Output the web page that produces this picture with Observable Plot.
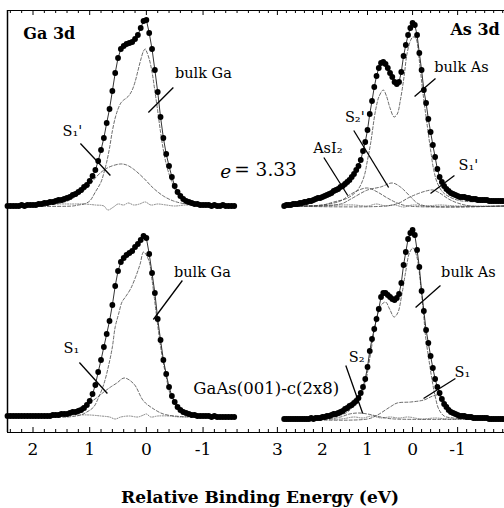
<!DOCTYPE html>
<html><head><meta charset="utf-8">
<script src="https://cdn.jsdelivr.net/npm/d3@7"></script>
<script src="https://cdn.jsdelivr.net/npm/@observablehq/plot@0.6"></script>
<style>
body{margin:0;background:#fff;}
#wrap{position:relative;width:504px;height:508px;overflow:hidden;font-family:"DejaVu Serif",serif;}
#ga{position:absolute;left:0;top:0;}
#as{position:absolute;left:253px;top:0;}
#title{position:absolute;left:8px;width:504px;top:489px;line-height:17px;text-align:center;font-weight:bold;font-size:17px;font-family:"DejaVu Serif",serif;color:#000;}
</style></head><body>
<div id="wrap"><div id="ga"></div><div id="as"></div><div id="title">Relative Binding Energy (eV)</div></div>
<script>
// ---------- data (intensity in arbitrary units, energy in eV) ----------
const step = 0.05;
const gaStart = 2.45;
const gaTopI = [0,0,0,0,0,1,0,1,1,1, 1,2,2,3,3,4,4,5,6,6, 7,8,9,11,12,14,16,19,21,25,
  30,36,45,56,68,83,97,115,133,148, 157,160,162,163,164,167,171,178,185,186,
  173,157,136,114,89,68,52,40,29,20, 14,10,7,5,4,3,2,2,1,1, 1,1,0,1,0,0,1,0,0,0, 0];
const gaBotI = [1,1,1,1,1,1,1,1,1,1, 1,1,1,1,1,1,2,2,2,3, 3,3,4,5,5,6,7,9,12,16,
  23,32,45,57,70,83,96,112,131,146, 155,159,162,164,166,170,173,177,181,179,
  163,144,124,98,77,57,43,30,21,15, 10,7,5,4,3,2,2,1,1,1, 1,1,0,1,0,0,0,0,0,0, 0];
const asStart = 2.85;
const asTopI = [0,1,1,1,2,2,2,3,3,4, 4,5,5,6,7,8,8,9,10,11, 12,13,15,16,17,19,20,22,24,26,
  29,32,36,40,46,55,64,76,92,105, 119,130,138,143,144,142,138,133,129,124,
  122,124,134,150,161,171,178,183,181,171, 153,136,116,103,87,74,61,49,37,29,
  24,20,17,15,13,12,11,10,9,9, 9,8,8,7,7,7,6,6,6,6, 6,5,5,5,5,5,5,5,5];
const asBotI = [-2,-2,-2,-2,-2,-2,-2,-2,-2,-2, -2,-2,-1,-2,-1,-1,-1,0,0,1, 1,2,3,3,4,5,6,8,9,11,
  12,14,16,19,24,30,38,50,66,78, 88,98,108,120,124,124,122,120,118,117,
  119,123,134,152,165,178,184,187,182,167, 150,126,106,87,74,61,49,38,30,24,
  18,13,10,7,5,4,3,2,1,1, 1,0,0,0,-1,-1,-1,-1,-1,-1, -1,-2,-2,-2,-2,-2,-2,-2,-2];

// fitted components [eV, intensity]
const gaTopBulk = [[2.45,0],[1.3,0],[1.2,1],[1.1,2],[1.0,5],[0.9,14],[0.8,24],[0.75,33],[0.7,44],[0.65,58],[0.6,75],[0.55,88],[0.5,97],[0.45,103],[0.4,106],[0.35,108],[0.3,111],[0.25,116],[0.2,124],[0.15,135],[0.1,146],[0.05,155],[0.02,157],[0,155],[-0.05,147],[-0.1,134],[-0.15,115],[-0.2,95],[-0.25,74],[-0.3,56],[-0.35,42],[-0.4,32],[-0.45,24],[-0.5,17],[-0.6,9],[-0.7,5],[-0.8,3],[-1.0,1],[-1.3,0],[-1.59,0]];
const gaTopS1p = [[2.45,0],[1.8,1],[1.6,2],[1.39,5],[1.29,8],[1.11,15],[1.0,21],[0.87,30],[0.69,38],[0.46,42],[0.35,41],[0.23,37],[0.05,28],[-0.12,18],[-0.3,10],[-0.48,5],[-0.7,2],[-1.0,1],[-1.59,0]];
const gaTopRes = [[2.45,1],[2.0,1],[1.6,2],[1.3,2],[1.1,2],[0.9,1],[0.75,0],[0.68,-4],[0.58,-1],[0.5,2],[0.4,1],[0.32,3],[0.22,1],[0.12,2],[0.02,4],[-0.08,1],[-0.2,2],[-0.35,1],[-0.5,0],[-0.7,1],[-1.0,0],[-1.3,0],[-1.59,0]];
const gaBotBulk = [[2.45,0],[1.4,0],[1.16,2],[1.05,5],[0.93,10],[0.84,20],[0.75,33],[0.66,53],[0.6,70],[0.55,90],[0.49,103],[0.43,115],[0.37,120],[0.28,128],[0.19,140],[0.11,153],[0.05,165],[-0.04,157],[-0.1,137],[-0.16,110],[-0.22,83],[-0.28,60],[-0.35,40],[-0.42,23],[-0.54,10],[-0.72,3],[-0.95,1],[-1.59,0]];
const gaBotS1 = [[2.45,0],[1.7,1],[1.4,3],[1.16,10],[0.93,17],[0.75,25],[0.63,30],[0.52,34],[0.39,39],[0.22,33],[0.05,16],[-0.13,8],[-0.3,3],[-0.5,1],[-0.8,0],[-1.59,0]];
const gaBotRes = [[2.45,1],[1.8,1],[1.3,2],[1.0,2],[0.8,1],[0.65,0],[0.55,-2],[0.45,0],[0.3,1],[0.15,0],[0.05,2],[0.0,3],[-0.08,0],[-0.2,1],[-0.4,1],[-0.6,0],[-1.0,1],[-1.59,0]];
const asTopBulk = [[2.85,0],[2.0,1],[1.75,4],[1.44,8],[1.22,16],[1.08,29],[1.0,46],[0.93,63],[0.82,96],[0.74,110],[0.65,116],[0.58,110],[0.5,98],[0.41,89],[0.34,92],[0.27,106],[0.19,129],[0.12,153],[0.04,166],[-0.01,169],[-0.07,168],[-0.14,149],[-0.19,129],[-0.25,106],[-0.33,79],[-0.4,56],[-0.47,36],[-0.55,23],[-0.69,13],[-0.99,6],[-1.43,4],[-2.05,3]];
const asTopAsI2 = [[2.85,0],[2.4,0],[2.0,1],[1.6,5],[1.4,11],[1.19,16],[1.0,18],[0.78,14],[0.56,8],[0.34,3],[0.1,0],[-2.05,0]];
const asTopS2p = [[2.85,0],[1.6,2],[1.37,7],[1.0,16],[0.71,19],[0.45,23],[0.27,19],[0.04,9],[-0.1,3],[-0.3,0],[-2.05,0]];
const asTopS1p = [[2.85,0],[0.6,0],[0.3,3],[0.1,8],[-0.1,12],[-0.3,15],[-0.45,16],[-0.6,13],[-0.8,7],[-1.0,3],[-1.3,0],[-2.05,0]];
const asTopRes = [[2.85,0],[2.0,0],[1.6,1],[1.3,1],[1.0,0],[0.8,2],[0.6,0],[0.4,1],[0.2,-1],[0.0,1],[-0.3,0],[-0.6,1],[-1.0,0],[-2.05,0]];
const asBotBulk = [[2.85,-2],[2.0,-1],[1.75,0],[1.48,4],[1.37,8],[1.26,13],[1.15,21],[1.04,36],[0.93,64],[0.82,94],[0.71,111],[0.6,115],[0.51,108],[0.41,100],[0.33,104],[0.24,122],[0.15,146],[0.07,164],[-0.01,169],[-0.09,161],[-0.18,132],[-0.25,100],[-0.29,80],[-0.36,58],[-0.44,35],[-0.51,19],[-0.58,8],[-0.7,1],[-0.9,-1],[-1.3,-2],[-2.05,-2]];
const asBotS1 = [[2.85,-2],[1.0,-2],[0.78,2],[0.5,10],[0.34,14],[0.04,15],[-0.25,17],[-0.45,21],[-0.55,22],[-0.69,17],[-0.91,5],[-1.21,0],[-1.5,-2],[-2.05,-2]];
const asBotS2 = [[2.85,-2],[1.9,-2],[1.6,0],[1.4,3],[1.2,4],[1.0,3],[0.8,1],[0.6,-1],[0.4,-2],[-2.05,-2]];
const asBotRes = [[2.85,-2],[1.6,-2],[1.3,0],[1.1,-1],[0.9,1],[0.7,-1],[0.5,0],[0.3,-1],[0.1,0],[-0.2,-2],[-0.5,-1],[-0.8,-2],[-2.05,-2]];

// ticks
const gaMajor = [2, 1, 0, -1];
const gaMinor = [2.4,2.2,1.8,1.6,1.4,1.2,0.8,0.6,0.4,0.2,-0.2,-0.4,-0.6,-0.8,-1.2,-1.4,-1.6,-1.8];
const asMajor = [3, 2, 1, 0, -1];
const asMinor = [3.4,3.2,2.8,2.6,2.4,2.2,1.8,1.6,1.4,1.2,0.8,0.6,0.4,0.2,-0.2,-0.4,-0.6,-0.8,-1.2,-1.4,-1.6,-1.8,-2.0];

// annotations
const gaLabels = [
  {row:"top", e:-1.005, i:132.5, text:"bulk Ga"},
  {row:"top", e:1.305, i:74.5, text:"S\u2081'"},
  {row:"bottom", e:-0.988, i:144.5, text:"bulk Ga"},
  {row:"bottom", e:1.323, i:68.5, text:"S\u2081"}
];
const gaLeaders = [
  {row:"top", e1:-0.035, i1:93.5, e2:-0.476, i2:118.5},
  {row:"top", e1:1.164, i1:62.5, e2:0.635, i2:30.5},
  {row:"bottom", e1:-0.123, i1:97.5, e2:-0.635, i2:136.5},
  {row:"bottom", e1:1.182, i1:54.5, e2:0.688, i2:23.5}
];
const gaNotes = [
  {row:"bottom", e:-0.829, i:28.5, text:"GaAs(001)-c(2x8)"}
];
const asLabels = [
  {row:"top", e:-1.084, i:138.5, text:"bulk As"},
  {row:"top", e:1.283, i:88.5, text:"S\u2082'"},
  {row:"top", e:1.88, i:57.5, text:"AsI\u2082"},
  {row:"top", e:-1.239, i:40.5, text:"S\u2081'"},
  {row:"bottom", e:-1.239, i:144.5, text:"bulk As"},
  {row:"bottom", e:1.239, i:59.5, text:"S\u2082"},
  {row:"bottom", e:-1.106, i:44.5, text:"S\u2081"}
];
const asLeaders = [
  {row:"top", e1:-0.044, i1:109.5, e2:-0.509, i2:127.5},
  {row:"top", e1:1.305, i1:75.5, e2:0.531, i2:18.5},
  {row:"top", e1:1.969, i1:48.5, e2:1.438, i2:10.5},
  {row:"top", e1:-0.398, i1:12.5, e2:-0.929, i2:30.5},
  {row:"bottom", e1:-0.066, i1:109.5, e2:-0.619, i2:131.5},
  {row:"bottom", e1:1.482, i1:51.5, e2:1.106, i2:3.5},
  {row:"bottom", e1:-0.243, i1:18.5, e2:-0.951, i2:38.5}
];

// ---------- build tables ----------
const spectrum = (start, vals, row) => vals.map((v, k) => ({e: Math.round((start - k*step)*100)/100, i: v, row}));
const comp = (pairs, row, name) => pairs.map(([e, i]) => ({e, i, row, name}));

const yDomain = [-15.5, 195.5];

function tickMarks(major, minor) {
  const tt = [];
  for (const t of major) { tt.push({row:"top", e:t, a:yDomain[1], b:yDomain[1]-5}); tt.push({row:"bottom", e:t, a:yDomain[0], b:yDomain[0]+5}); }
  for (const t of minor) { tt.push({row:"top", e:t, a:yDomain[1], b:yDomain[1]-3}); tt.push({row:"bottom", e:t, a:yDomain[0], b:yDomain[0]+3}); }
  return Plot.ruleX(tt, {x:"e", y1:"a", y2:"b", fy:"row", stroke:"#000", strokeWidth:1});
}

function panel(o) {
  const dataAll = [...spectrum(o.start, o.top, "top"), ...spectrum(o.start, o.bot, "bottom")];
  const marks = [
    Plot.ruleY([{row:"top", y:yDomain[1]}], {y:"y", fy:"row", stroke:"#000", strokeWidth:1.2}),
    Plot.ruleY([{row:"bottom", y:yDomain[0]}], {y:"y", fy:"row", stroke:"#000", strokeWidth:1.2}),
    tickMarks(o.major, o.minor),
    Plot.axisX({anchor:"bottom", ticks:o.major, tickSize:0, tickPadding:10, fontSize:17, tickFormat:d=>String(d), label:null}),
    Plot.line(o.res, {x:"e", y:"i", fy:"row", z:"name", stroke:"#777", strokeWidth:0.9, strokeDasharray:"1,1.5", curve:"catmull-rom"}),
    Plot.line(o.comps, {x:"e", y:"i", fy:"row", z:"name", stroke:"#444", strokeWidth:0.8, strokeDasharray:"3,2", curve:"catmull-rom"}),
    Plot.line(dataAll, {x:"e", y:"i", fy:"row", z:"row", stroke:"#000", strokeWidth:0.8}),
    Plot.dot(dataAll, {x:"e", y:"i", fy:"row", r:2.9, fill:"#000", stroke:null}),
    Plot.link(o.leaders, {x1:"e1", y1:"i1", x2:"e2", y2:"i2", fy:"row", stroke:"#000", strokeWidth:1.3}),
    Plot.text(o.labels, {x:"e", y:"i", fy:"row", text:"text", fontSize:14.5, fill:"#000"}),
    ...o.extra
  ];
  if (o.left) marks.unshift(Plot.ruleX([o.domain[0]], {stroke:"#000", strokeWidth:1.5}));
  return Plot.plot({
    width: o.width, height: 460,
    marginTop: 10, marginBottom: 28, marginLeft: o.marginLeft, marginRight: 0,
    style: {background:"transparent", overflow:"visible", fontFamily:"'DejaVu Serif', serif", fontSize:"15px", color:"#000"},
    x: {domain: o.domain, axis: null},
    y: {domain: yDomain, axis: null},
    fy: {domain: ["top","bottom"], padding: 0, axis: null},
    marks
  });
}

const ga = panel({
  width: 253, marginLeft: 7, domain: [2.45, -1.89], left: true,
  start: gaStart, top: gaTopI, bot: gaBotI,
  comps: [...comp(gaTopBulk,"top","bulk"), ...comp(gaTopS1p,"top","s1"), ...comp(gaBotBulk,"bottom","bulk"), ...comp(gaBotS1,"bottom","s1")],
  res: [...comp(gaTopRes,"top","r"), ...comp(gaBotRes,"bottom","r")],
  major: gaMajor, minor: gaMinor, labels: gaLabels, leaders: gaLeaders,
  extra: [
    Plot.text([{row:"top", e:2.17, i:172.5, text:"Ga 3d"}], {x:"e", y:"i", fy:"row", text:"text", textAnchor:"start", fontSize:16, fontWeight:"bold"}),
    Plot.text([{row:"top", e:-1.305, i:33.5, text:"e"}], {x:"e", y:"i", fy:"row", text:"text", textAnchor:"start", fontSize:18.5, fontStyle:"italic"}),
    Plot.text([{row:"top", e:-1.55, i:35.5, text:"= 3.33"}], {x:"e", y:"i", fy:"row", text:"text", textAnchor:"start", fontSize:18.5}),
    Plot.text(gaNotes, {x:"e", y:"i", fy:"row", text:"text", textAnchor:"start", fontSize:16.5})
  ]
});
const as = panel({
  width: 251, marginLeft: 0, domain: [3.53, -2.04], left: false,
  start: asStart, top: asTopI, bot: asBotI,
  comps: [...comp(asTopBulk,"top","bulk"), ...comp(asTopAsI2,"top","asi2"), ...comp(asTopS2p,"top","s2"), ...comp(asTopS1p,"top","s1"),
          ...comp(asBotBulk,"bottom","bulk"), ...comp(asBotS1,"bottom","s1"), ...comp(asBotS2,"bottom","s2")],
  res: [...comp(asTopRes,"top","r"), ...comp(asBotRes,"bottom","r")],
  major: asMajor, minor: asMinor, labels: asLabels, leaders: asLeaders,
  extra: [
    Plot.text([{row:"top", e:-0.84, i:176.5, text:"As 3d"}], {x:"e", y:"i", fy:"row", text:"text", textAnchor:"start", fontSize:16, fontWeight:"bold"})
  ]
});
document.getElementById("ga").appendChild(ga);
document.getElementById("as").appendChild(as);
</script>
</body></html>
